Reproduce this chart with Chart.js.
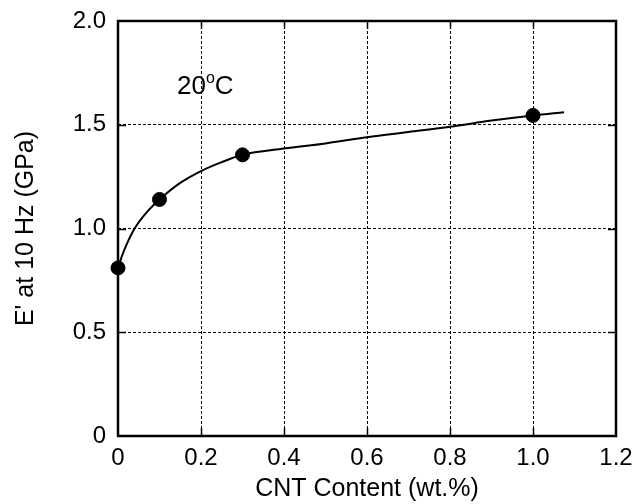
<!DOCTYPE html>
<html>
<head>
<meta charset="utf-8">
<script src="https://cdn.jsdelivr.net/npm/chart.js@4/dist/chart.umd.min.js"></script>
<style>
  html, body { margin: 0; padding: 0; background: #fff; }
  #wrap { width: 634px; height: 504px; }
</style>
</head>
<body>
<div id="wrap"><canvas id="graph" width="634" height="504"></canvas></div>
<script>
  // measured storage modulus at 20 C
  const cntContent = [0, 0.1, 0.3, 1.0];
  const modulus = [0.81, 1.14, 1.355, 1.545];

  // fitted trend line
  const fitX = [0, 0.01, 0.02, 0.04, 0.07, 0.1, 0.15, 0.2, 0.25, 0.3, 0.4, 0.5, 0.6, 0.7, 0.8, 0.9, 1.0, 1.075];
  const fitY = [0.81, 0.87, 0.92, 1.0, 1.08, 1.14, 1.22, 1.277, 1.32, 1.355, 1.385, 1.41, 1.44, 1.465, 1.49, 1.52, 1.545, 1.56];

  const xTicks = [0, 0.2, 0.4, 0.6, 0.8, 1.0, 1.2];
  const xTickLabels = ['0', '0.2', '0.4', '0.6', '0.8', '1.0', '1.2'];
  const yTicks = [0, 0.5, 1.0, 1.5, 2.0];
  const yTickLabels = ['0', '0.5', '1.0', '1.5', '2.0'];

  const FONT = '"Liberation Sans", Arial, sans-serif';

  // box frame, inward ticks and the temperature note
  const framePlugin = {
    id: 'frame',
    afterDatasetsDraw(chart) {
      const { ctx, chartArea: a, scales } = chart;
      ctx.save();
      ctx.strokeStyle = '#000';
      ctx.lineWidth = 1.5;
      ctx.setLineDash([]);
      ctx.beginPath();
      xTicks.slice(1, -1).forEach(v => {
        const px = Math.round(scales.x.getPixelForValue(v)) + 0.5;
        ctx.moveTo(px, a.bottom); ctx.lineTo(px, a.bottom - 8);
        ctx.moveTo(px, a.top); ctx.lineTo(px, a.top + 8);
      });
      yTicks.slice(1, -1).forEach(v => {
        const py = Math.round(scales.y.getPixelForValue(v)) + 0.5;
        ctx.moveTo(a.left, py); ctx.lineTo(a.left + 8, py);
        ctx.moveTo(a.right, py); ctx.lineTo(a.right - 8, py);
      });
      ctx.stroke();
      ctx.lineWidth = 2.5;
      ctx.strokeRect(a.left, a.top, a.right - a.left, a.bottom - a.top);

      ctx.fillStyle = '#000';
      ctx.textBaseline = 'alphabetic';
      ctx.font = '26px ' + FONT;
      let tx = 177, ty = 94;
      ctx.fillText('20', tx, ty);
      tx += ctx.measureText('20').width;
      ctx.font = '16px ' + FONT;
      ctx.fillText('o', tx, ty - 11);
      tx += ctx.measureText('o').width;
      ctx.font = '26px ' + FONT;
      ctx.fillText('C', tx, ty);
      ctx.restore();
    }
  };

  new Chart(document.getElementById('graph').getContext('2d'), {
    type: 'scatter',
    data: {
      datasets: [
        {
          label: 'fit',
          type: 'line',
          data: fitX.map((x, i) => ({ x: x, y: fitY[i] })),
          borderColor: '#000',
          borderWidth: 2,
          pointRadius: 0,
          cubicInterpolationMode: 'monotone',
          fill: false
        },
        {
          label: 'E\'',
          data: cntContent.map((x, i) => ({ x: x, y: modulus[i] })),
          backgroundColor: '#000',
          borderColor: '#000',
          pointRadius: 7,
          clip: false
        }
      ]
    },
    options: {
      responsive: false,
      animation: false,
      layout: { padding: { top: 21, right: 18, left: 0, bottom: 0 } },
      plugins: {
        legend: { display: false },
        tooltip: { enabled: false }
      },
      scales: {
        x: {
          type: 'linear',
          min: 0,
          max: 1.2,
          afterBuildTicks: s => { s.ticks = xTicks.map(v => ({ value: v })); },
          afterFit: s => { s.height = 68; s.paddingLeft = 0; s.paddingRight = 0; },
          ticks: {
            color: '#000',
            font: { family: FONT, size: 24 },
            padding: 8,
            maxRotation: 0,
            callback: (v) => xTickLabels[xTicks.indexOf(v)]
          },
          grid: {
            color: '#000',
            lineWidth: 1,
            drawTicks: false
          },
          border: { display: false, dash: [3, 2] },
          title: {
            display: true,
            text: 'CNT Content (wt.%)',
            color: '#000',
            font: { family: FONT, size: 25 },
            padding: { top: 2, bottom: 0 }
          }
        },
        y: {
          type: 'linear',
          min: 0,
          max: 2.0,
          afterBuildTicks: s => { s.ticks = yTicks.map(v => ({ value: v })); },
          afterFit: s => { s.width = 118; s.paddingTop = 0; s.paddingBottom = 0; },
          ticks: {
            color: '#000',
            font: { family: FONT, size: 24 },
            padding: 12,
            callback: (v) => yTickLabels[yTicks.indexOf(v)]
          },
          grid: {
            color: '#000',
            lineWidth: 1,
            drawTicks: false
          },
          border: { display: false, dash: [3, 2] },
          title: {
            display: true,
            text: 'E\' at 10 Hz (GPa)',
            color: '#000',
            font: { family: FONT, size: 25 },
            padding: { top: 11, bottom: 0 }
          }
        }
      }
    },
    plugins: [framePlugin]
  });
</script>
</body>
</html>
